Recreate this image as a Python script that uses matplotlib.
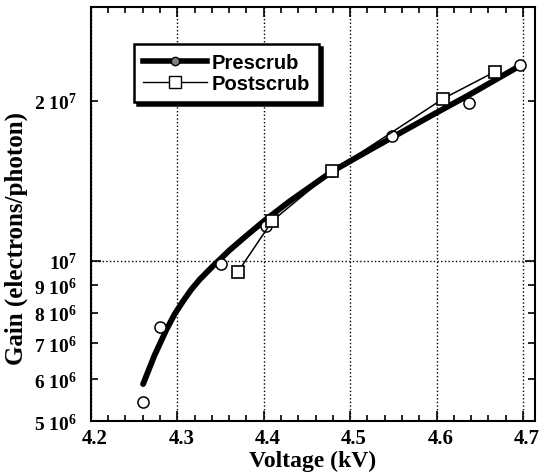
import numpy as np
import matplotlib
matplotlib.use("Agg")
import matplotlib.pyplot as plt
import matplotlib.transforms as mtransforms
from matplotlib.lines import Line2D
from matplotlib.ticker import FixedLocator, FixedFormatter, MultipleLocator

# prescrub measurements (open circles)
pre_v = [4.260, 4.280, 4.351, 4.403, 4.479, 4.548, 4.638, 4.697]
pre_g = [5.43e6, 7.50e6, 9.86e6, 1.165e7, 1.473e7, 1.72e7, 1.984e7, 2.335e7]

# prescrub fit curve (thick line)
fit_v = [4.2604, 4.2735, 4.2874, 4.297, 4.3066, 4.316, 4.3259, 4.3412, 4.3605,
         4.3798, 4.4009, 4.4298, 4.479, 4.526, 4.598, 4.638, 4.697]
fit_g = [5.87e6, 6.64e6, 7.43e6, 7.95e6, 8.40e6, 8.83e6, 9.23e6, 9.78e6, 1.048e7,
         1.115e7, 1.191e7, 1.294e7, 1.473e7, 1.628e7, 1.892e7, 2.053e7, 2.33e7]

# postscrub measurements (squares)
post_v = [4.370, 4.410, 4.479, 4.608, 4.668]
post_g = [9.53e6, 1.19e7, 1.473e7, 2.02e7, 2.27e7]

ytick_vals = [5e6, 6e6, 7e6, 8e6, 9e6, 2e7]
ytick_labels = [r'5 $10^6$', r'6 $10^6$', r'7 $10^6$', r'8 $10^6$', r'9 $10^6$', r'2 $10^7$']

plt.rcParams['font.family'] = ['Liberation Serif', 'DejaVu Serif']
plt.rcParams['font.weight'] = 'bold'
plt.rcParams['mathtext.default'] = 'regular'

fig = plt.figure(figsize=(5.41, 4.77), dpi=100)
ax = fig.add_axes([0.168, 0.115, 0.821, 0.868])

ax.plot(fit_v, fit_g, color='black', lw=4.2, solid_capstyle='round',
        solid_joinstyle='round', zorder=3)
ax.plot(pre_v, pre_g, 'o', ms=8, mfc='white', mec='black', mew=1.1, zorder=4)
ax.plot(post_v, post_g, 's', ls='-', lw=1.1, color='black', ms=8,
        mfc='white', mec='black', mew=1.2, zorder=5)

ax.set_yscale('log')
ax.set_xlim(4.2, 4.714)
ax.set_ylim(5e6, 3e7)

ax.xaxis.set_major_locator(MultipleLocator(0.1))
ax.xaxis.set_minor_locator(MultipleLocator(0.02))
ax.yaxis.set_major_locator(FixedLocator([1e7]))
ax.yaxis.set_major_formatter(FixedFormatter([r'$10^7$']))
ax.yaxis.set_minor_locator(FixedLocator(ytick_vals))
ax.yaxis.set_minor_formatter(FixedFormatter(ytick_labels))

ax.tick_params(which='both', direction='in', top=True, right=True, width=1.2)
ax.tick_params(axis='x', which='both', labelsize=15, pad=5)
ax.tick_params(axis='y', which='both', labelsize=14, pad=10)
ax.tick_params(which='major', length=7)
ax.tick_params(which='minor', length=4)
ax.tick_params(axis='y', which='minor', length=5)

# x tick labels sit a little right of their ticks in the original
shift = mtransforms.ScaledTranslation(0.04, 0, fig.dpi_scale_trans)
for t in ax.xaxis.get_major_ticks():
    t.label1.set_transform(t.label1.get_transform() + shift)

ax.grid(True, which='major', ls=':', color='black', lw=1.0)
for s in ax.spines.values():
    s.set_linewidth(1.5)

ax.set_xlabel('Voltage (kV)', fontsize=17, fontweight='bold', labelpad=1)
ax.set_ylabel('Gain (electrons/photon)', fontsize=18, fontweight='bold')
ax.yaxis.set_label_coords(-0.142, 0.444)

handles = [
    Line2D([], [], color='black', lw=4, marker='o', ms=6, mfc='gray', mec='black'),
    Line2D([], [], color='black', lw=1, marker='s', ms=8, mfc='white', mec='black'),
]
leg = ax.legend(handles, ['Prescrub', 'Postscrub'], loc='upper left',
                bbox_to_anchor=(0.097, 0.911), borderaxespad=0,
                fancybox=False, framealpha=1,
                edgecolor='black', handlelength=3.2, handletextpad=0.2,
                labelspacing=0.1, borderpad=0.45,
                shadow={'color': 'black', 'alpha': 1},
                prop={'family': 'Liberation Sans', 'size': 14.5})
leg.get_frame().set_linewidth(1.8)

fig.savefig('out.png', dpi=100)
